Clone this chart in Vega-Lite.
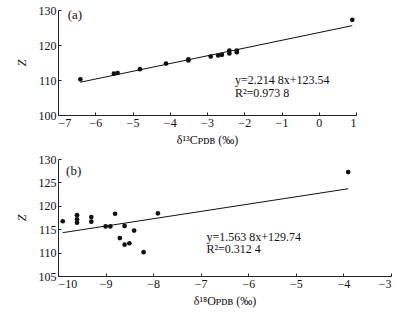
{
  "$schema": "https://vega.github.io/schema/vega-lite/v6.json",
  "padding": {"left": 15, "top": 4, "right": 5, "bottom": 5},
  "spacing": 8,
  "background": "white",
  "config": {
    "view": {"stroke": null},
    "axis": {
      "grid": false,
      "domainColor": "#222",
      "tickColor": "#222",
      "tickSize": -3,
      "labelFont": "Liberation Serif",
      "labelFontSize": 12,
      "labelColor": "#111",
      "labelOverlap": false,
      "titleFont": "Liberation Serif",
      "titleFontSize": 12,
      "titleFontWeight": "normal",
      "titleColor": "#111",
      "labelPadding": 5
    },
    "axisY": {"titleFontStyle": "italic", "titlePadding": 10},
    "axisX": {"titlePadding": 6}
  },
  "datasets": {
    "a": [
      {"delta": -6.4, "Z": 110.2},
      {"delta": -5.5, "Z": 111.8},
      {"delta": -5.4, "Z": 112.0},
      {"delta": -4.8, "Z": 113.1},
      {"delta": -4.1, "Z": 114.7},
      {"delta": -3.5, "Z": 115.6},
      {"delta": -3.5, "Z": 115.9},
      {"delta": -2.9, "Z": 116.7},
      {"delta": -2.7, "Z": 117.0},
      {"delta": -2.6, "Z": 117.2},
      {"delta": -2.4, "Z": 117.6},
      {"delta": -2.4, "Z": 118.4},
      {"delta": -2.2, "Z": 117.9},
      {"delta": -2.2, "Z": 118.4},
      {"delta": 0.9, "Z": 127.2}
    ],
    "fitA": [
      {"delta": -6.4, "Z": 109.37},
      {"delta": 0.9, "Z": 125.53}
    ],
    "b": [
      {"delta": -9.9, "Z": 116.7},
      {"delta": -9.6, "Z": 118.0},
      {"delta": -9.6, "Z": 117.1},
      {"delta": -9.6, "Z": 116.4},
      {"delta": -9.3, "Z": 117.6},
      {"delta": -9.3, "Z": 116.6},
      {"delta": -9.0, "Z": 115.6},
      {"delta": -8.9, "Z": 115.6},
      {"delta": -8.8, "Z": 118.3},
      {"delta": -8.7, "Z": 113.1},
      {"delta": -8.6, "Z": 115.7},
      {"delta": -8.6, "Z": 111.7},
      {"delta": -8.5, "Z": 112.0},
      {"delta": -8.4, "Z": 114.7},
      {"delta": -8.2, "Z": 110.1},
      {"delta": -7.9, "Z": 118.4},
      {"delta": -3.9, "Z": 127.2}
    ],
    "fitB": [
      {"delta": -9.9, "Z": 114.26},
      {"delta": -3.9, "Z": 123.64}
    ],
    "one": [{"k": 1}]
  },
  "vconcat": [
    {
      "width": 298,
      "height": 105,
      "layer": [
        {
          "encoding": {
            "x": {"field": "delta", "type": "quantitative", "scale": {"domain": [-7, 1], "nice": false, "zero": false},
                  "axis": {"values": [-7, -6, -5, -4, -3, -2, -1, 0, 1], "labelOverlap": false, "format": "d", "title": "δ¹³Cᴘᴅʙ (‰)"}},
            "y": {"field": "Z", "type": "quantitative", "scale": {"domain": [100, 130], "nice": false, "zero": false},
                  "axis": {"values": [100, 110, 120, 130], "labelOverlap": false, "format": "d", "title": "Z"}}
          },
          "layer": [
            {
              "data": {"name": "fitA"},
              "mark": {"type": "line", "color": "#111", "strokeWidth": 1}
            },
            {
              "data": {"name": "a"},
              "mark": {"type": "circle", "color": "#111", "opacity": 1, "size": 22}
            }
          ]
        },
        {
          "data": {"name": "one"},
          "mark": {"type": "text", "text": "(a)", "align": "left", "baseline": "middle", "fontSize": 13, "font": "Liberation Serif", "color": "#111"},
          "encoding": {
            "x": {"datum": -6.74, "type": "quantitative", "axis": {"values": [-7, -6, -5, -4, -3, -2, -1, 0, 1], "labelOverlap": false, "format": "d", "title": "δ¹³Cᴘᴅʙ (‰)"}},
            "y": {"datum": 128.6, "type": "quantitative", "axis": {"values": [100, 110, 120, 130], "labelOverlap": false, "format": "d", "title": "Z"}}
          }
        },
        {
          "data": {"name": "one"},
          "mark": {"type": "text", "text": ["y=2.214 8x+123.54", "R²=0.973 8"], "align": "left", "baseline": "middle", "fontSize": 12, "font": "Liberation Serif", "lineHeight": 13, "color": "#111"},
          "encoding": {
            "x": {"datum": -2.25, "type": "quantitative", "axis": {"values": [-7, -6, -5, -4, -3, -2, -1, 0, 1], "labelOverlap": false, "format": "d", "title": "δ¹³Cᴘᴅʙ (‰)"}},
            "y": {"datum": 109.9, "type": "quantitative", "axis": {"values": [100, 110, 120, 130], "labelOverlap": false, "format": "d", "title": "Z"}}
          }
        }
      ]
    },
    {
      "width": 333,
      "height": 117,
      "layer": [
        {
          "encoding": {
            "x": {"field": "delta", "type": "quantitative", "scale": {"domain": [-10, -3], "nice": false, "zero": false},
                  "axis": {"values": [-10, -9, -8, -7, -6, -5, -4, -3], "labelOverlap": false, "format": "d", "title": "δ¹⁸Oᴘᴅʙ (‰)"}},
            "y": {"field": "Z", "type": "quantitative", "scale": {"domain": [105, 130], "nice": false, "zero": false},
                  "axis": {"values": [105, 110, 115, 120, 125, 130], "labelOverlap": false, "format": "d", "title": "Z"}}
          },
          "layer": [
            {
              "data": {"name": "fitB"},
              "mark": {"type": "line", "color": "#111", "strokeWidth": 1}
            },
            {
              "data": {"name": "b"},
              "mark": {"type": "circle", "color": "#111", "opacity": 1, "size": 22}
            }
          ]
        },
        {
          "data": {"name": "one"},
          "mark": {"type": "text", "text": "(b)", "align": "left", "baseline": "middle", "fontSize": 13, "font": "Liberation Serif", "color": "#111"},
          "encoding": {
            "x": {"datum": -9.83, "type": "quantitative", "axis": {"values": [-10, -9, -8, -7, -6, -5, -4, -3], "labelOverlap": false, "format": "d", "title": "δ¹⁸Oᴘᴅʙ (‰)"}},
            "y": {"datum": 127.4, "type": "quantitative", "axis": {"values": [105, 110, 115, 120, 125, 130], "labelOverlap": false, "format": "d", "title": "Z"}}
          }
        },
        {
          "data": {"name": "one"},
          "mark": {"type": "text", "text": ["y=1.563 8x+129.74", "R²=0.312 4"], "align": "left", "baseline": "middle", "fontSize": 12, "font": "Liberation Serif", "lineHeight": 12.5, "color": "#111"},
          "encoding": {
            "x": {"datum": -6.88, "type": "quantitative", "axis": {"values": [-10, -9, -8, -7, -6, -5, -4, -3], "labelOverlap": false, "format": "d", "title": "δ¹⁸Oᴘᴅʙ (‰)"}},
            "y": {"datum": 113.4, "type": "quantitative", "axis": {"values": [105, 110, 115, 120, 125, 130], "labelOverlap": false, "format": "d", "title": "Z"}}
          }
        }
      ]
    }
  ]
}
